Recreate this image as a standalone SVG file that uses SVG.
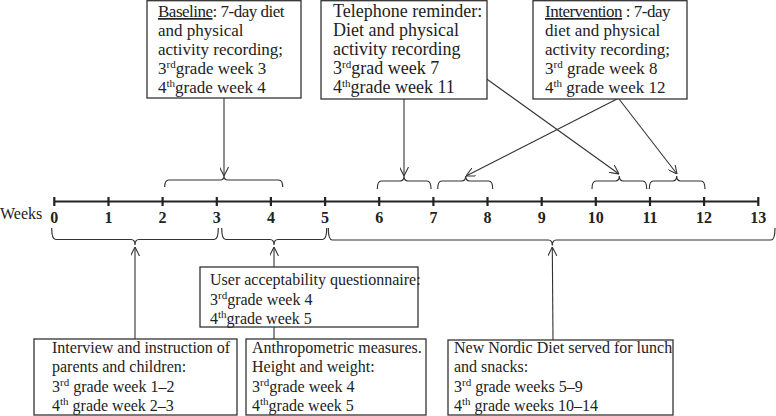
<svg xmlns="http://www.w3.org/2000/svg" width="776" height="416" viewBox="0 0 776 416">
<defs>
<style>
.box{fill:#fff;stroke:#333;stroke-width:1.3}
.t{font-family:"Liberation Serif","Times New Roman",serif;fill:#222}
.top{font-size:17px}
.tel{font-size:18px}
.bot{font-size:16px}
.sup{font-size:11px}
.tight{letter-spacing:-0.5px}
.ln{fill:none;stroke:#333;stroke-width:1.1}
.br{fill:none;stroke:#333;stroke-width:1.2}
.axis{fill:none;stroke:#222;stroke-width:2.2}
.num{font-family:"Liberation Serif","Times New Roman",serif;font-weight:bold;font-size:16px;fill:#222;text-anchor:middle}
</style>
<marker id="ah" viewBox="0 0 10 10" refX="10" refY="5" markerWidth="9" markerHeight="9" markerUnits="userSpaceOnUse" orient="auto">
<path d="M0,0 L10,5 L0,10" fill="none" stroke="#333" stroke-width="1.2"/>
</marker>
</defs>

<g id="timeline">
<path class="axis" d="M54.3,201.5 H758.3 M54.3,197 V206 M108.5,197 V206 M162.6,197 V206 M216.8,197 V206 M270.9,197 V206 M325.1,197 V206 M379.2,197 V206 M433.4,197 V206 M487.5,197 V206 M541.7,197 V206 M595.8,197 V206 M650,197 V206 M704.1,197 V206 M758.3,197 V206"/>
<text class="t" x="0" y="219" font-size="16px">Weeks</text>
<text class="num" x="54.3" y="223">0</text>
<text class="num" x="108.5" y="223">1</text>
<text class="num" x="162.6" y="223">2</text>
<text class="num" x="216.8" y="223">3</text>
<text class="num" x="270.9" y="223">4</text>
<text class="num" x="325.1" y="223">5</text>
<text class="num" x="379.2" y="223">6</text>
<text class="num" x="433.4" y="223">7</text>
<text class="num" x="487.5" y="223">8</text>
<text class="num" x="541.7" y="223">9</text>
<text class="num" x="595.8" y="223">10</text>
<text class="num" x="650" y="223">11</text>
<text class="num" x="704.1" y="223">12</text>
<text class="num" x="758.3" y="223">13</text>
</g>

<g id="braces">
<path class="br" d="M164.7,187 Q164.7,180 168.7,180 L220,180 Q224,180 224,176 Q224,180 228,180 L278.7,180 Q282.7,180 282.7,187"/>
<path class="br" d="M377.3,189 Q377.3,181 381.3,181 L400,181 Q404,181 404,176 Q404,181 408,181 L427,181 Q431,181 431,189"/>
<path class="br" d="M437.7,189 Q437.7,181 441.7,181 L461.7,181 Q465.7,181 465.7,176 Q465.7,181 469.7,181 L488.7,181 Q492.7,181 492.7,189"/>
<path class="br" d="M592,189 Q592,181 596,181 L615.3,181 Q619.3,181 619.3,176 Q619.3,181 623.3,181 L642.7,181 Q646.7,181 646.7,189"/>
<path class="br" d="M649.3,189 Q649.3,181 653.3,181 L672.7,181 Q676.7,181 676.7,176 Q676.7,181 680.7,181 L701,181 Q705,181 705,189"/>
<path class="br" d="M51.7,228 Q51.7,239.5 55.7,239.5 L131,239.5 Q135,239.5 135,245 Q135,239.5 139,239.5 L214.3,239.5 Q218.3,239.5 218.3,228"/>
<path class="br" d="M221.7,228 Q221.7,239.5 225.7,239.5 L270,239.5 Q274,239.5 274,245 Q274,239.5 278,239.5 L322.7,239.5 Q326.7,239.5 326.7,228"/>
<path class="br" d="M328.3,228 Q328.3,240 332.3,240 L548.3,240 Q552.3,240 552.3,245.5 Q552.3,240 556.3,240 L771,240 Q775,240 775,228"/>
</g>

<g id="connectors">
<line class="ln" x1="224" y1="98" x2="224" y2="176" marker-end="url(#ah)"/>
<line class="ln" x1="404" y1="99" x2="404" y2="176" marker-end="url(#ah)"/>
<line class="ln" x1="477" y1="72" x2="619" y2="174" marker-end="url(#ah)"/>
<line class="ln" x1="617" y1="99" x2="466" y2="176" marker-end="url(#ah)"/>
<line class="ln" x1="619" y1="99" x2="677" y2="174" marker-end="url(#ah)"/>
<line class="ln" x1="135" y1="339" x2="135" y2="247" marker-end="url(#ah)"/>
<line class="ln" x1="274" y1="267" x2="274" y2="247" marker-end="url(#ah)"/>
<line class="ln" x1="274" y1="327" x2="274" y2="339"/>
<line class="ln" x1="553" y1="340" x2="552.3" y2="247" marker-end="url(#ah)"/>
</g>

<g id="baseline">
<rect class="box" x="147" y="0.7" width="154" height="97.3"/>
<text class="t top">
<tspan x="158" y="17" class="tight"><tspan text-decoration="underline">Baseline</tspan>: 7-day diet</tspan>
<tspan x="158" y="36">and physical</tspan>
<tspan x="158" y="55">activity recording;</tspan>
<tspan x="158" y="74">3<tspan class="sup" dy="-6">rd</tspan><tspan dy="6">grade week 3</tspan></tspan>
<tspan x="158" y="93">4<tspan class="sup" dy="-6">th</tspan><tspan dy="6">grade week 4</tspan></tspan>
</text>
</g>

<g id="telephone">
<rect class="box" x="321" y="0.7" width="166" height="98.3"/>
<text class="t tel">
<tspan x="333" y="17">Telephone reminder:</tspan>
<tspan x="333" y="36">Diet and physical</tspan>
<tspan x="333" y="55">activity recording</tspan>
<tspan x="333" y="74">3<tspan class="sup" dy="-6">rd</tspan><tspan dy="6">grad week 7</tspan></tspan>
<tspan x="333" y="93">4<tspan class="sup" dy="-6">th</tspan><tspan dy="6">grade week 11</tspan></tspan>
</text>
</g>

<g id="intervention">
<rect class="box" x="533" y="0.7" width="154" height="98.3"/>
<text class="t top">
<tspan x="545" y="17" class="tight"><tspan text-decoration="underline">Intervention</tspan> : 7-day</tspan>
<tspan x="545" y="36">diet and physical</tspan>
<tspan x="545" y="55">activity recording;</tspan>
<tspan x="545" y="74">3<tspan class="sup" dy="-6">rd</tspan><tspan dy="6"> grade week 8</tspan></tspan>
<tspan x="545" y="93">4<tspan class="sup" dy="-6">th</tspan><tspan dy="6"> grade week 12</tspan></tspan>
</text>
</g>

<g id="acceptability">
<rect class="box" x="200" y="267" width="218" height="60"/>
<text class="t bot">
<tspan x="210" y="285">User acceptability questionnaire:</tspan>
<tspan x="210" y="305">3<tspan class="sup" dy="-6">rd</tspan><tspan dy="6">grade week 4</tspan></tspan>
<tspan x="210" y="324">4<tspan class="sup" dy="-6">th</tspan><tspan dy="6">grade week 5</tspan></tspan>
</text>
</g>

<g id="interview">
<rect class="box" x="34" y="339" width="203" height="76"/>
<text class="t bot">
<tspan x="52" y="353">Interview and instruction of</tspan>
<tspan x="52" y="372">parents and children:</tspan>
<tspan x="52" y="392">3<tspan class="sup" dy="-6">rd</tspan><tspan dy="6"> grade week 1–2</tspan></tspan>
<tspan x="52" y="411">4<tspan class="sup" dy="-6">th</tspan><tspan dy="6"> grade week 2–3</tspan></tspan>
</text>
</g>

<g id="anthropometric">
<rect class="box" x="246" y="339" width="180" height="76"/>
<text class="t bot">
<tspan x="252" y="353">Anthropometric measures.</tspan>
<tspan x="252" y="372">Height and weight:</tspan>
<tspan x="252" y="392">3<tspan class="sup" dy="-6">rd</tspan><tspan dy="6">grade week 4</tspan></tspan>
<tspan x="252" y="411">4<tspan class="sup" dy="-6">th</tspan><tspan dy="6">grade week 5</tspan></tspan>
</text>
</g>

<g id="nordic">
<rect class="box" x="448" y="340" width="225" height="75"/>
<text class="t bot">
<tspan x="454" y="353">New Nordic Diet served for lunch</tspan>
<tspan x="454" y="372">and snacks:</tspan>
<tspan x="454" y="392">3<tspan class="sup" dy="-6">rd</tspan><tspan dy="6"> grade weeks 5–9</tspan></tspan>
<tspan x="454" y="411">4<tspan class="sup" dy="-6">th</tspan><tspan dy="6"> grade weeks 10–14</tspan></tspan>
</text>
</g>
</svg>
